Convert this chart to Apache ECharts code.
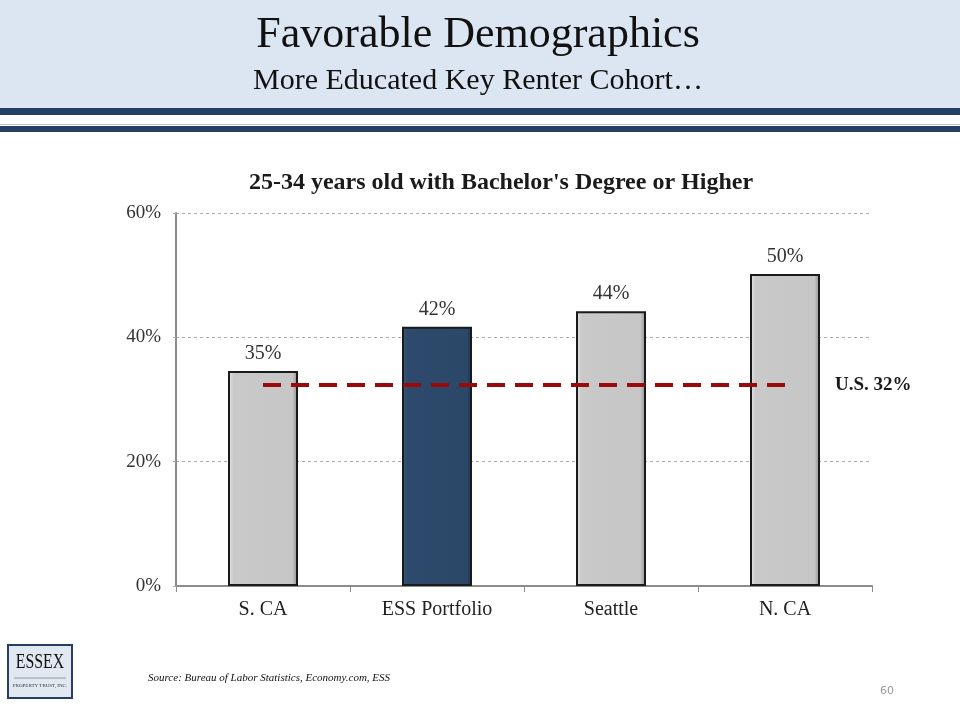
<!DOCTYPE html>
<html>
<head>
<meta charset="utf-8">
<script src="https://cdn.jsdelivr.net/npm/echarts@6/dist/echarts.min.js"></script>
<style>
html,body{margin:0;padding:0;background:#fff;}
#chart{width:960px;height:720px;}
</style>
</head>
<body>
<div id="chart"></div>
<script>
var categories = ['S. CA', 'ESS Portfolio', 'Seattle', 'N. CA'];
var values = [34.6, 41.7, 44.2, 50.2];
var usValue = 32.3;
var yTicks = [0, 20, 40, 60];

var SERIF = '"Liberation Serif", "DejaVu Serif", serif';
var chart = echarts.init(document.getElementById('chart'));

var barData = values.map(function (v, i) {
  var highlight = categories[i] === 'ESS Portfolio';
  return {
    value: v,
    itemStyle: highlight ? {
      color: new echarts.graphic.LinearGradient(0, 0, 1, 0, [
        {offset: 0, color: '#3a5a80'}, {offset: 0.08, color: '#2d4a6c'},
        {offset: 0.92, color: '#2b4869'}, {offset: 1, color: '#1d3350'}]),
      borderColor: '#1a1a1a', borderWidth: 2
    } : {
      color: new echarts.graphic.LinearGradient(0, 0, 1, 0, [
        {offset: 0, color: '#e6e6e6'}, {offset: 0.08, color: '#c9c9c9'},
        {offset: 0.92, color: '#c6c6c6'}, {offset: 1, color: '#8a8a8a'}]),
      borderColor: '#1a1a1a', borderWidth: 2
    }
  };
});

chart.setOption({
  animation: false,
  backgroundColor: '#ffffff',
  title: {
    text: "25-34 years old with Bachelor's Degree or Higher",
    left: 496, top: 166, textAlign: 'center',
    textStyle: {fontFamily: SERIF, fontWeight: 'bold', fontSize: 24, color: '#1a1a1a'}
  },
  grid: {left: 176, right: 88, top: 213, bottom: 134},
  xAxis: {
    type: 'category',
    data: categories,
    axisLine: {lineStyle: {color: '#8c8c8c', width: 2}},
    axisTick: {show: true, length: 6, lineStyle: {color: '#8c8c8c', width: 1}},
    axisLabel: {fontFamily: SERIF, fontSize: 20, color: '#222', margin: 14}
  },
  yAxis: {
    type: 'value',
    min: yTicks[0], max: yTicks[yTicks.length - 1], interval: 20,
    axisLine: {show: true, lineStyle: {color: '#8c8c8c', width: 2}},
    axisTick: {show: true, length: 6, lineStyle: {color: '#aaa', type: [3, 3]}},
    axisLabel: {formatter: '{value}%', fontFamily: SERIF, fontSize: 19, color: '#333', margin: 15},
    splitLine: {lineStyle: {color: '#aaaaaa', type: [3, 3], width: 1}}
  },
  series: [{
    type: 'bar',
    data: barData,
    barWidth: 70,
    label: {
      show: true, position: 'top', distance: 7,
      formatter: function (p) { return Math.round(p.value) + '%'; },
      fontFamily: SERIF, fontSize: 20, color: '#333'
    },
    markLine: {
      silent: true,
      symbol: ['none', 'none'],
      lineStyle: {color: '#9b0a0a', width: 4, type: [18, 10]},
      label: {
        show: true, position: 'end', distance: 50,
        formatter: function () { return 'U.S. ' + Math.round(usValue) + '%'; },
        fontFamily: SERIF, fontSize: 19, fontWeight: 'bold', color: '#1a1a1a'
      },
      data: [[{coord: [categories[0], usValue]}, {coord: [categories[categories.length - 1], usValue]}]]
    }
  }],
  graphic: [
    {type: 'rect', shape: {x: 0, y: 0, width: 960, height: 108}, style: {fill: '#dce6f2'}, z: -1},
    {type: 'rect', shape: {x: 0, y: 108, width: 960, height: 7}, style: {fill: '#243f63'}},
    {type: 'rect', shape: {x: 0, y: 124, width: 960, height: 1}, style: {fill: '#b8c4d4'}},
    {type: 'rect', shape: {x: 0, y: 126, width: 960, height: 6}, style: {fill: '#243f63'}},
    {type: 'text', x: 478, y: 13, style: {text: 'Favorable Demographics', font: '44px ' + SERIF, fill: '#111', textAlign: 'center'}},
    {type: 'text', x: 478, y: 66, style: {text: 'More Educated Key Renter Cohort\u2026', font: '30px ' + SERIF, fill: '#111', textAlign: 'center'}},
    {type: 'rect', shape: {x: 8, y: 645, width: 64, height: 53}, style: {fill: '#e1e8f1', stroke: '#243f63', lineWidth: 2}},
    {type: 'text', x: 40, y: 651, scaleX: 0.72, originX: 0, originY: 0, style: {text: 'ESSEX', font: '22px ' + SERIF, fill: '#111', textAlign: 'center'}},
    {type: 'line', shape: {x1: 14, y1: 678, x2: 66, y2: 678}, style: {stroke: '#999', lineWidth: 1}},
    {type: 'text', x: 40, y: 683, style: {text: 'PROPERTY TRUST, INC.', font: '5px ' + SERIF, fill: '#333', textAlign: 'center'}},
    {type: 'text', x: 148, y: 673, style: {text: 'Source: Bureau of Labor Statistics, Economy.com, ESS', font: 'italic 11px ' + SERIF, fill: '#111'}},
    {type: 'text', x: 880, y: 686, style: {text: '60', font: '11px "DejaVu Sans", sans-serif', fill: '#999'}}
  ]
});
</script>
</body>
</html>
